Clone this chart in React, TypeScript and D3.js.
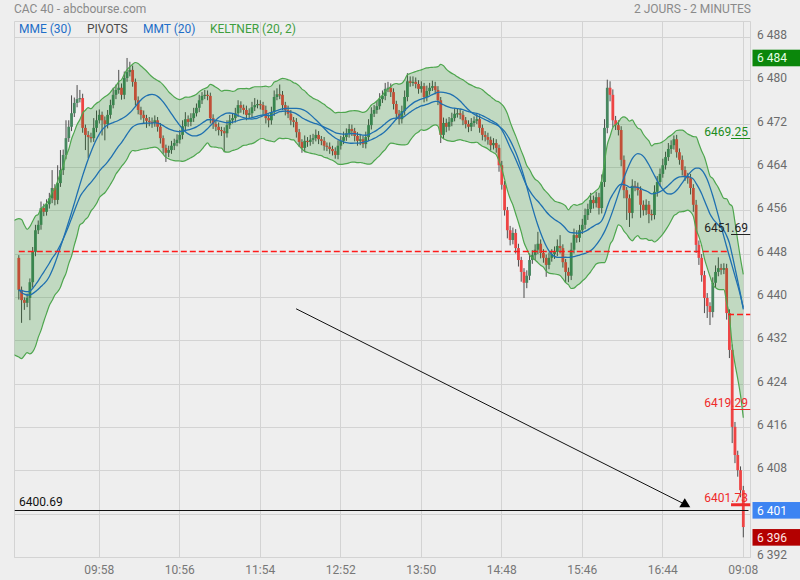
import React from "react";
import * as d3 from "d3";

// ---------- DATA ----------
const titleLeft = "CAC 40 - abcbourse.com";
const titleRight = "2 JOURS - 2 MINUTES";
const legendLabels = ["MME (30)", "PIVOTS", "MMT (20)", "KELTNER (20, 2)"];

const timeLabels = ["09:58", "10:56", "11:54", "12:52", "13:50", "14:48", "15:46", "16:44", "09:08"];
const timeTickIndex = [29, 58, 87, 116, 145, 174, 203, 232, 261];
const priceTicks = [6392, 6400, 6408, 6416, 6424, 6432, 6440, 6448, 6456, 6464, 6472, 6480, 6488];

const firstOpen = 6447.3;
const closes = [
  6441.4, 6439.5, 6439.0, 6439.9, 6442.8, 6448.4, 6452.4, 6453.4, 6456.5, 6455.8,
  6457.2, 6458.3, 6460.2, 6458.0, 6461.1, 6463.5, 6466.3, 6469.4, 6471.5, 6474.0,
  6475.9, 6476.6, 6476.8, 6471.3, 6470.0, 6469.6, 6469.4, 6471.3, 6472.7, 6473.7,
  6472.7, 6472.0, 6473.7, 6475.5, 6477.4, 6478.3, 6478.7, 6477.4, 6480.5, 6481.6,
  6482.0, 6479.8, 6476.4, 6474.6, 6473.7, 6473.1, 6472.6, 6472.4, 6472.2, 6472.7,
  6471.5, 6469.4, 6467.6, 6466.7, 6467.2, 6468.0, 6468.5, 6469.1, 6470.0, 6471.6,
  6472.9, 6472.4, 6473.1, 6474.0, 6475.0, 6476.4, 6477.2, 6477.4, 6477.2, 6473.1,
  6472.0, 6471.5, 6470.9, 6470.7, 6470.3, 6471.8, 6472.7, 6473.1, 6474.0, 6475.5,
  6475.0, 6474.6, 6473.7, 6474.0, 6475.1, 6475.5, 6475.7, 6475.5, 6474.6, 6473.1,
  6472.7, 6474.2, 6477.0, 6477.5, 6477.4, 6475.5, 6474.6, 6473.9, 6472.7, 6472.4,
  6470.5, 6468.7, 6467.6, 6468.9, 6468.7, 6469.1, 6469.4, 6470.0, 6469.2, 6468.9,
  6468.0, 6467.8, 6467.4, 6467.0, 6466.3, 6468.0, 6468.9, 6469.6, 6470.3, 6471.1,
  6470.7, 6469.8, 6468.9, 6469.2, 6468.3, 6469.6, 6471.8, 6473.9, 6474.6, 6475.3,
  6476.6, 6477.2, 6478.5, 6478.7, 6477.9, 6475.7, 6473.9, 6472.9, 6474.4, 6477.0,
  6479.9, 6479.6, 6479.8, 6479.4, 6478.5, 6479.0, 6477.0, 6478.1, 6478.7, 6479.0,
  6478.3, 6476.4, 6470.0, 6472.2, 6471.5, 6472.4, 6473.1, 6473.9, 6474.0, 6473.7,
  6472.7, 6472.0, 6471.5, 6472.2, 6472.6, 6472.9, 6471.3, 6470.0, 6469.6, 6469.1,
  6468.1, 6468.5, 6467.6, 6464.4, 6460.8, 6456.1, 6452.4, 6450.6, 6451.9, 6449.1,
  6446.9, 6444.7, 6442.7, 6444.0, 6446.9, 6447.8, 6448.8, 6449.9, 6448.2, 6447.3,
  6446.0, 6447.3, 6448.0, 6448.4, 6449.5, 6449.1, 6446.5, 6444.7, 6444.0, 6448.8,
  6451.5, 6451.0, 6452.4, 6453.4, 6455.2, 6456.3, 6458.0, 6457.4, 6458.5, 6456.5,
  6461.3, 6471.3, 6478.7, 6477.4, 6472.7, 6471.8, 6470.9, 6465.4, 6459.8, 6458.3,
  6455.6, 6460.6, 6460.4, 6459.8, 6457.1, 6456.1, 6457.1, 6455.4, 6455.2, 6459.5,
  6461.3, 6462.8, 6464.4, 6465.9, 6467.4, 6468.1, 6469.2, 6466.8, 6465.4, 6463.5,
  6462.4, 6462.0, 6460.2, 6457.1, 6449.7, 6447.3, 6444.1, 6439.9, 6438.4, 6437.3,
  6442.7, 6444.7, 6445.4, 6445.1, 6445.4, 6437.1, 6430.3, 6416.1, 6410.9, 6408.1,
  6404.4, 6397.6,
];
const upperWick = [
  0.5, 0.6, 0.5, 0.8, 0.7, 0.9, 1.0, 0.8, 1.2, 0.8,
  0.9, 1.0, 3.3, 0.7, 3.3, 3.7, 1.0, 3.3, 1.2, 3.3,
  1.0, 2.6, 1.5, 0.8, 0.6, 0.7, 0.8, 1.8, 1.8, 1.0,
  0.6, 0.7, 0.9, 1.0, 1.3, 1.0, 3.3, 0.8, 1.2, 2.6,
  1.5, 0.8, 0.6, 0.7, 0.6, 0.8, 0.6, 0.7, 0.8, 0.9,
  0.6, 0.7, 0.5, 0.6, 0.8, 0.9, 0.8, 1.0, 0.9, 1.1,
  1.3, 0.7, 0.9, 1.0, 0.8, 1.0, 0.7, 0.9, 0.8, 0.6,
  0.7, 0.6, 0.8, 0.6, 0.7, 0.9, 1.0, 0.8, 1.0, 0.9,
  0.7, 0.6, 0.8, 0.9, 1.0, 1.3, 0.8, 0.7, 0.6, 0.8,
  0.7, 1.0, 1.2, 1.1, 1.8, 0.7, 0.6, 0.8, 0.7, 0.6,
  0.7, 0.6, 0.5, 1.0, 0.7, 0.9, 0.8, 1.0, 0.7, 0.6,
  0.7, 0.6, 0.8, 0.6, 0.7, 1.0, 0.9, 1.0, 0.9, 0.9,
  0.8, 0.6, 0.7, 0.9, 0.6, 1.0, 1.1, 1.2, 0.9, 1.0,
  1.1, 1.0, 1.1, 1.1, 0.8, 0.7, 0.6, 0.7, 1.0, 1.2,
  1.5, 0.9, 1.0, 0.8, 0.7, 0.9, 0.6, 1.0, 0.9, 1.0,
  0.8, 0.7, 0.6, 1.0, 0.8, 0.9, 1.0, 0.9, 0.8, 0.8,
  0.7, 0.6, 0.7, 0.9, 0.8, 1.0, 0.7, 0.6, 0.7, 0.8,
  0.6, 0.9, 0.7, 0.6, 0.8, 0.7, 0.6, 0.8, 1.0, 0.7,
  0.8, 0.6, 0.7, 1.0, 1.2, 0.9, 1.0, 2.2, 0.8, 0.7,
  0.6, 1.0, 0.9, 1.0, 1.2, 2.0, 0.7, 0.6, 0.8, 1.3,
  1.2, 0.9, 1.0, 1.1, 1.2, 1.0, 1.3, 0.8, 1.0, 0.8,
  1.4, 1.6, 1.5, 1.2, 1.0, 0.8, 0.9, 0.7, 0.8, 0.6,
  0.7, 1.2, 0.9, 0.8, 0.7, 0.8, 1.0, 0.7, 0.8, 1.2,
  1.1, 1.0, 1.2, 1.0, 1.1, 0.9, 0.7, 0.8, 0.7, 0.8,
  0.7, 0.6, 0.8, 0.7, 0.9, 0.8, 0.7, 0.8, 0.9, 0.7,
  1.0, 1.2, 2.0, 0.8, 0.9, 0.8, 0.7, 1.0, 0.9, 0.8,
  0.7, 0.8,
];
const lowerWick = [
  1.8, 4.2, 1.3, 0.8, 4.1, 1.0, 0.8, 0.7, 0.9, 0.8,
  0.7, 0.8, 0.9, 1.0, 0.8, 0.7, 0.9, 0.8, 0.7, 0.8,
  0.7, 0.8, 0.6, 0.9, 2.8, 3.9, 0.8, 0.7, 0.8, 0.6,
  2.8, 3.0, 0.8, 0.7, 0.6, 0.8, 0.7, 0.9, 0.8, 0.7,
  0.8, 0.9, 1.0, 0.8, 0.9, 1.0, 1.3, 0.8, 0.9, 0.7,
  0.9, 1.0, 1.1, 1.7, 0.8, 0.7, 0.8, 0.6, 0.7, 0.8,
  0.7, 0.9, 0.8, 0.7, 0.6, 0.8, 0.7, 0.6, 0.8, 1.0,
  0.9, 0.8, 1.0, 0.9, 3.5, 0.8, 0.7, 0.6, 0.8, 0.7,
  0.9, 0.8, 1.0, 0.7, 0.8, 0.7, 0.6, 0.8, 0.9, 1.0,
  1.3, 0.8, 0.7, 0.6, 0.8, 0.9, 1.0, 0.8, 0.9, 1.0,
  1.0, 0.9, 0.9, 0.8, 0.9, 0.7, 0.8, 0.6, 0.9, 0.8,
  0.9, 0.8, 0.9, 0.8, 0.7, 0.8, 0.7, 0.6, 0.7, 0.8,
  0.9, 1.0, 0.9, 0.8, 0.7, 0.8, 0.7, 0.8, 0.6, 0.7,
  0.6, 0.7, 0.8, 0.6, 0.9, 1.0, 1.1, 1.0, 0.8, 0.7,
  0.8, 0.7, 0.6, 0.8, 0.9, 0.7, 1.0, 0.8, 0.7, 0.6,
  0.8, 0.9, 1.5, 0.8, 1.0, 0.7, 0.8, 0.6, 0.7, 0.8,
  0.9, 0.8, 1.0, 0.8, 0.7, 0.6, 0.9, 1.0, 0.8, 0.9,
  1.0, 0.8, 0.9, 1.2, 0.9, 1.0, 1.5, 1.0, 0.8, 1.0,
  1.2, 1.8, 2.8, 1.0, 0.8, 0.7, 0.9, 0.8, 1.0, 0.9,
  2.2, 0.8, 0.7, 0.9, 0.8, 1.0, 1.0, 2.0, 1.2, 0.8,
  0.7, 0.9, 0.8, 0.7, 0.8, 0.9, 0.7, 1.0, 0.8, 1.2,
  1.0, 0.9, 1.0, 1.2, 1.3, 0.9, 1.0, 1.2, 1.5, 4.0,
  2.6, 1.0, 0.8, 1.0, 2.4, 1.0, 0.9, 1.7, 1.0, 0.8,
  0.9, 0.8, 0.7, 0.8, 0.7, 0.9, 0.8, 1.0, 0.9, 1.0,
  0.9, 1.0, 1.2, 1.3, 1.5, 1.3, 1.2, 2.8, 2.2, 2.4,
  1.0, 0.9, 0.8, 0.9, 0.8, 1.2, 1.5, 3.0, 1.5, 1.2,
  1.3, 1.9,
];

// prior-session indicator state (value of the indicators just before the first visible candle)
const priorKeltnerMid = 6441.8;
const priorAtr = 6.2;

// pivots
const pivotDay1 = 6448.5;
const pivotDay2 = 6436.9;
const dayBreakIndex = 255.5;
const pivotDay2Levels = [6469.25, 6451.69, 6419.29, 6401.73];
const pivotDay2Labels = ["6469.25", "6451.69", "6419.29", "6401.73"];

// user drawings
const userLevel = 6400.69;
const userLevelLabel = "6400.69";
const arrowStart = { i: 99.9, v: 6437.9 };
const arrowEnd = { i: 239.2, v: 6402.0 };

// ---------- HELPERS ----------
function ema(values: number[], n: number, seed: number) {
  const k = 2 / (n + 1);
  let prev = seed;
  return values.map((v) => (prev = prev + k * (v - prev)));
}
function sma(values: number[], n: number) {
  return values.map((_, i) => d3.mean(values.slice(Math.max(0, i - n + 1), i + 1)) as number);
}
function fmtPrice(v: number) {
  const r = Math.round(v);
  return `${Math.floor(r / 1000)} ${String(r % 1000).padStart(3, "0")}`;
}

const FONT = "Roboto, 'Open Sans', 'DejaVu Sans', sans-serif";

export default function App() {
  const M = { left: 14.5, right: 750.5, top: 21.5, bottom: 557.5 };
  const x = d3.scaleLinear().domain([29, 261]).range([99.3, 743.3]);
  const y = d3.scaleLinear().domain([6392, 6488]).range([557.4, 37.4]);
  const crisp = (v: number) => Math.round(v - 0.5) + 0.5;

  const candles = closes.map((c, i) => {
    const o = i === 0 ? firstOpen : closes[i - 1];
    const h = Math.max(o, c) + (upperWick[i] ?? 0.8);
    const l = Math.min(o, c) - (lowerWick[i] ?? 0.8);
    return { i, o, c, h, l };
  });

  // indicators
  const mme30 = ema(closes, 30, closes[0]);
  const mmt20 = sma(sma(closes, 10), 11);
  const kMid = ema(closes, 20, priorKeltnerMid);
  const tr = candles.map((d, i) => {
    const pc = i === 0 ? d.o : closes[i - 1];
    return Math.max(d.h, pc) - Math.min(d.l, pc);
  });
  const atr = ema(tr, 20, priorAtr);
  const startIdx = x.invert(M.left - 0.5);
  const band = [
    { i: startIdx, up: priorKeltnerMid + 2 * priorAtr, lo: priorKeltnerMid - 2 * priorAtr },
    ...kMid.map((m, i) => ({ i, up: m + 2 * atr[i], lo: m - 2 * atr[i] })),
  ];

  const areaGen = d3
    .area<any>()
    .x((d) => x(d.i))
    .y0((d) => y(d.lo))
    .y1((d) => y(d.up))
    .curve(d3.curveMonotoneX);
  const upLine = d3.line<any>().x((d) => x(d.i)).y((d) => y(d.up)).curve(d3.curveMonotoneX);
  const loLine = d3.line<any>().x((d) => x(d.i)).y((d) => y(d.lo)).curve(d3.curveMonotoneX);
  const maLine = d3
    .line<number>()
    .x((_, i) => x(i))
    .y((v) => y(v))
    .curve(d3.curveMonotoneX);

  const dayHigh = d3.max(candles, (d) => d.h) as number;
  const dayLow = d3.min(candles, (d) => d.l) as number;
  const boxes = [
    { v: dayHigh, color: "#0b870b", text: "#e6ffe6" },
    { v: userLevel, color: "#3d84f2", text: "#ffffff" },
    { v: dayLow, color: "#b30000", text: "#ffe6e6" },
  ];

  const pivotStyles = [
    { color: "#1c8c1c", w: 1 },
    { color: "#222222", w: 1 },
    { color: "#ee2a2a", w: 1 },
    { color: "#ee2a2a", w: 3 },
  ];
  const legendX = [19, 87, 143, 210];
  const legendColors = ["#1e6ec8", "#4a4a4a", "#1e6ec8", "#3e9e3e"];

  const upColor = "#478760";
  const downColor = "#ee4444";
  const wickColor = "#4d4d4d";
  const pivotRed = "#ff1a1a";

  const ax = x(arrowStart.i), ay = y(arrowStart.v);
  const bx = x(arrowEnd.i), by = y(arrowEnd.v);

  return (
    <svg
      width={800}
      height={580}
      style={{ position: "absolute", left: 0, top: 0, display: "block" }}
      fontFamily={FONT}
    >
      <defs>
        <clipPath id="plotClip">
          <rect x={M.left} y={M.top} width={M.right - M.left} height={M.bottom - M.top} />
        </clipPath>
      </defs>
      <rect x={0} y={0} width={800} height={580} fill="#eeeeee" />

      {/* header */}
      <text x={14} y={8.5} fontSize={12} fill="#8a8a8a" dominantBaseline="central">
        {titleLeft}
      </text>
      <text x={751} y={8.5} fontSize={12} fill="#8a8a8a" textAnchor="end" dominantBaseline="central">
        {titleRight}
      </text>

      {/* grid */}
      <g stroke="#d3d3d3" strokeWidth={1}>
        {priceTicks.map((v) => (
          <line key={"h" + v} x1={M.left} x2={M.right} y1={crisp(y(v))} y2={crisp(y(v))} />
        ))}
        {timeTickIndex.map((i) => (
          <line key={"v" + i} x1={crisp(x(i))} x2={crisp(x(i))} y1={M.top} y2={M.bottom} />
        ))}
        <line x1={M.left} x2={M.right} y1={M.top} y2={M.top} />
        <line x1={M.left} x2={M.right} y1={M.bottom} y2={M.bottom} />
        <line x1={M.left} x2={M.left} y1={M.top} y2={M.bottom} />
        <line x1={M.right} x2={M.right} y1={M.top} y2={M.bottom} />
      </g>

      {/* legend */}
      {legendLabels.map((t, k) => (
        <text key={t} x={legendX[k]} y={29} fontSize={12} fill={legendColors[k]} dominantBaseline="central">
          {t}
        </text>
      ))}

      <g clipPath="url(#plotClip)">
        {/* candles */}
        {candles.map((d) => {
          const cx = x(d.i);
          const top = y(Math.max(d.o, d.c));
          const bot = y(Math.min(d.o, d.c));
          return (
            <g key={d.i}>
              <line x1={cx} x2={cx} y1={y(d.h)} y2={y(d.l)} stroke={wickColor} strokeWidth={1} />
              <rect
                x={cx - 1.4}
                y={top}
                width={2.8}
                height={Math.max(1.2, bot - top)}
                fill={d.c >= d.o ? upColor : downColor}
              />
            </g>
          );
        })}

        {/* keltner */}
        <path d={areaGen(band) as string} fill="rgb(0,128,0)" fillOpacity={0.19} />
        <path d={upLine(band) as string} fill="none" stroke="#4ea64e" strokeWidth={1.2} />
        <path d={loLine(band) as string} fill="none" stroke="#4ea64e" strokeWidth={1.2} />

        {/* moving averages */}
        <path d={maLine(mme30) as string} fill="none" stroke="#1f70b0" strokeWidth={1.3} />
        <path d={maLine(mmt20) as string} fill="none" stroke="#1f70b0" strokeWidth={1.3} />

        {/* pivots */}
        <line
          x1={x(0)}
          x2={x(dayBreakIndex)}
          y1={crisp(y(pivotDay1))}
          y2={crisp(y(pivotDay1))}
          stroke={pivotRed}
          strokeWidth={1.3}
          strokeDasharray="6,3"
        />
        <line
          x1={x(dayBreakIndex)}
          x2={M.right}
          y1={crisp(y(pivotDay2))}
          y2={crisp(y(pivotDay2))}
          stroke={pivotRed}
          strokeWidth={1.3}
          strokeDasharray="6,3"
        />
        {pivotDay2Levels.map((v, k) => (
          <g key={"p" + v}>
            <line
              x1={x(dayBreakIndex) + 3}
              x2={M.right}
              y1={pivotStyles[k].w === 1 ? crisp(y(v)) : y(v)}
              y2={pivotStyles[k].w === 1 ? crisp(y(v)) : y(v)}
              stroke={pivotStyles[k].color}
              strokeWidth={pivotStyles[k].w}
            />
            <text x={748} y={y(v) - 2.5} fontSize={12} fill={pivotStyles[k].color} textAnchor="end">
              {pivotDay2Labels[k]}
            </text>
          </g>
        ))}

        {/* user horizontal line */}
        <line x1={M.left} x2={M.right - 2} y1={crisp(y(userLevel))} y2={crisp(y(userLevel))} stroke="#111" strokeWidth={1.2} />
        <text x={19} y={y(userLevel) - 4.5} fontSize={12} fill="#111">
          {userLevelLabel}
        </text>

        {/* arrow */}
        <line x1={ax} y1={ay} x2={bx} y2={by} stroke="#111" strokeWidth={1} />
        <path
          d={`M${bx + 2},${by - 5} L${bx + 7.5},${by + 4} L${bx - 3.5},${by + 4} Z`}
          fill="#000"
        />
      </g>

      {/* right axis labels */}
      {priceTicks.map((v) => (
        <text key={"t" + v} x={757} y={y(v) - 2.5} fontSize={12} fill="#6b6b6b" dominantBaseline="central">
          {fmtPrice(v)}
        </text>
      ))}
      {boxes.map((b) => (
        <g key={"b" + b.v}>
          <rect x={752.5} y={y(b.v) - 8.3} width={48} height={16.6} fill={b.color} />
          <text x={757} y={y(b.v) + 0.5} fontSize={12} fill={b.text} dominantBaseline="central">
            {fmtPrice(b.v)}
          </text>
        </g>
      ))}

      {/* time labels */}
      {timeTickIndex.map((i, k) => (
        <text key={"x" + i} x={x(i)} y={569.5} fontSize={12} fill="#777" textAnchor="middle" dominantBaseline="central">
          {timeLabels[k]}
        </text>
      ))}
    </svg>
  );
}
